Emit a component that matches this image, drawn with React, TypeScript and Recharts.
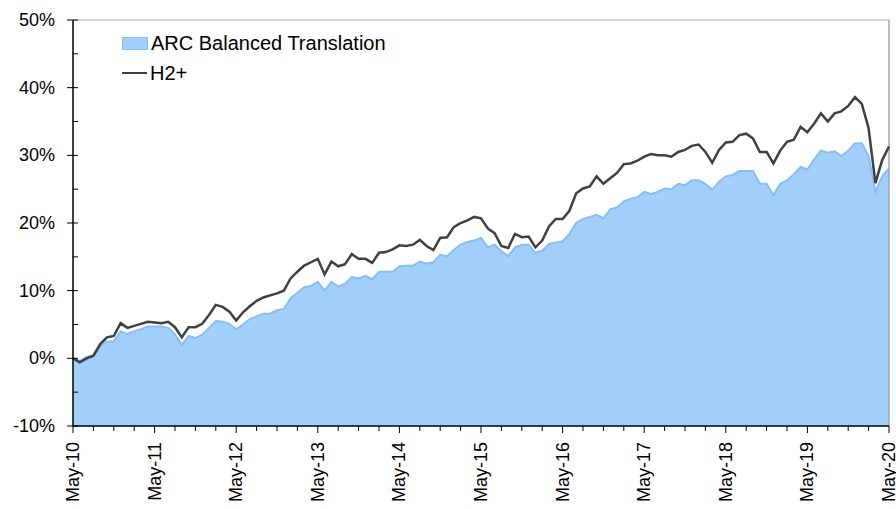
import { ComposedChart, Area, Line, XAxis, YAxis, ReferenceLine } from 'recharts'

const FONT = '"Liberation Sans", Arial, sans-serif'

const monthNames = ['Jan', 'Feb', 'Mar', 'Apr', 'May', 'Jun', 'Jul', 'Aug', 'Sep', 'Oct', 'Nov', 'Dec']

// monthly, May-10 .. May-20
const months: string[] = Array.from({ length: 121 }, (_, i) => {
  const m = (4 + i) % 12
  const y = 10 + Math.floor((4 + i) / 12)
  return `${monthNames[m]}-${y}`
})

// cumulative return, %
const arc = [
  0, -0.4, 0.2, 0.4, 1.7, 2.5, 2.5, 4.0, 3.6, 4.0, 4.3, 4.7,
  4.7, 4.7, 4.5, 3.5, 2.0, 3.3, 3.0, 3.5, 4.5, 5.5, 5.4, 5.1,
  4.3, 5.0, 5.8, 6.2, 6.6, 6.6, 7.1, 7.3, 8.9, 9.7, 10.5, 10.7,
  11.3, 10.0, 11.3, 10.6, 11.0, 12.0, 11.8, 12.2, 11.7, 12.8, 12.8, 12.8,
  13.6, 13.7, 13.7, 14.3, 14.0, 14.2, 15.3, 15.1, 16.0, 16.8, 17.2, 17.4,
  17.8, 16.4, 16.8, 15.8, 15.1, 16.4, 16.8, 16.8, 15.6, 15.9, 16.9, 17.1,
  17.3, 18.4, 20.0, 20.6, 20.9, 21.2, 20.7, 22.0, 22.3, 23.2, 23.6, 23.8,
  24.6, 24.3, 24.6, 25.1, 25.0, 25.8, 25.6, 26.3, 26.3, 25.8, 24.9, 26.1,
  26.9, 27.1, 27.7, 27.7, 27.7, 25.8, 25.8, 24.1, 25.8, 26.3, 27.2, 28.3,
  27.9, 29.4, 30.7, 30.4, 30.6, 29.9, 30.7, 31.8, 31.8, 29.9, 24.6, 26.9,
  28.1,
]

const h2 = [
  0, -0.6, 0, 0.4, 2.1, 3.1, 3.3, 5.2, 4.5, 4.8, 5.1, 5.4,
  5.3, 5.2, 5.4, 4.6, 3.1, 4.6, 4.6, 5.1, 6.4, 7.9, 7.6, 6.9,
  5.6, 6.8, 7.7, 8.5, 9.0, 9.3, 9.6, 10.0, 11.8, 12.8, 13.7, 14.2,
  14.7, 12.4, 14.3, 13.6, 13.9, 15.4, 14.7, 14.7, 14.1, 15.6, 15.7, 16.1,
  16.7, 16.6, 16.8, 17.5, 16.6, 16.0, 17.8, 17.9, 19.4, 20.0, 20.4, 20.9,
  20.7, 19.2, 18.5, 16.6, 16.3, 18.4, 17.9, 18.0, 16.4, 17.4, 19.5, 20.6,
  20.6, 21.8, 24.4, 25.1, 25.4, 26.9, 25.8, 26.6, 27.4, 28.7, 28.8, 29.2,
  29.8, 30.2, 30.0, 30.0, 29.8, 30.5, 30.8, 31.4, 31.6, 30.5, 28.9, 30.8,
  31.9, 32.0, 33.0, 33.2, 32.5, 30.5, 30.5, 28.8, 30.7, 32.0, 32.3, 34.2,
  33.4, 34.7, 36.2, 35.0, 36.2, 36.5, 37.3, 38.6, 37.6, 34.0, 25.9, 29.3,
  31.3,
]

const yTicks = [-10, -5, 0, 5, 10, 15, 20, 25, 30, 35, 40, 45, 50]
const xTicks = months.map((_, i) => i).filter((i) => i % 3 === 0)

const data = months.map((m, i) => ({ i, m, arc: arc[i], h2: h2[i] }))

const Y_TICK_SIZE = 6
const Y_TICK_MARGIN = 12
const X_TICK_SIZE = 6
const X_TICK_MARGIN = 4

function YTick(props: any) {
  const { x, y, payload } = props
  const axisX = x + Y_TICK_MARGIN + Y_TICK_SIZE
  const major = payload.value % 10 === 0
  return (
    <g>
      <line x1={major ? axisX - 6 : axisX} x2={axisX + 5} y1={y} y2={y} stroke="#000" strokeWidth={1} />
      {major && (
        <text x={x} y={y} textAnchor="end" dominantBaseline="central" fontFamily={FONT} fontSize={18} fill="#000">
          {payload.value}%
        </text>
      )}
    </g>
  )
}

function XTick(props: any) {
  const { x, y, payload } = props
  const axisY = y - X_TICK_MARGIN - X_TICK_SIZE
  const major = payload.value % 12 === 0
  const ty = axisY + 16
  return (
    <g>
      <line x1={x} x2={x} y1={axisY} y2={axisY + (major ? 7 : 5)} stroke="#000" strokeWidth={1} />
      {major && (
        <text
          x={x}
          y={ty}
          transform={`rotate(-90, ${x}, ${ty})`}
          textAnchor="end"
          dominantBaseline="central"
          fontFamily={FONT}
          fontSize={18}
          fill="#000"
        >
          {months[payload.value]}
        </text>
      )}
    </g>
  )
}

export default function App() {
  return (
    <div style={{ position: 'absolute', left: 0, top: 0, width: 896, height: 509, background: '#fff' }}>
      <ComposedChart width={896} height={509} data={data} margin={{ top: 20, right: 7, bottom: 0, left: 0 }}>
        <XAxis
          dataKey="i"
          type="number"
          domain={[0, 120]}
          ticks={xTicks}
          interval={0}
          height={83}
          tickSize={X_TICK_SIZE}
          tickMargin={X_TICK_MARGIN}
          tickLine={false}
          tick={<XTick />}
          axisLine={{ stroke: '#000', strokeWidth: 1.5 }}
        />
        <YAxis
          domain={[-10, 50]}
          ticks={yTicks}
          interval={0}
          width={73}
          tickSize={Y_TICK_SIZE}
          tickMargin={Y_TICK_MARGIN}
          tickLine={false}
          tick={<YTick />}
          axisLine={{ stroke: '#000', strokeWidth: 1.5 }}
        />
        <ReferenceLine y={50} stroke="#a6a6a6" strokeWidth={1} />
        <ReferenceLine x={120} stroke="#a6a6a6" strokeWidth={1.5} />
        <Area
          type="linear"
          dataKey="arc"
          baseValue="dataMin"
          fill="#a2cffb"
          fillOpacity={1}
          stroke="#84bff7"
          strokeWidth={2}
          isAnimationActive={false}
        />
        <Line
          type="linear"
          dataKey="h2"
          stroke="#404040"
          strokeWidth={2.5}
          dot={false}
          isAnimationActive={false}
        />
      </ComposedChart>
      <div style={{ position: 'absolute', left: 122, top: 28, fontFamily: FONT, fontSize: 20, color: '#000', lineHeight: '30px' }}>
        <div style={{ display: 'flex', alignItems: 'center', height: 30 }}>
          <span style={{ display: 'inline-block', width: 24, height: 11, background: '#a2cffb', border: '1px solid #84bff7', marginRight: 3 }} />
          ARC Balanced Translation
        </div>
        <div style={{ display: 'flex', alignItems: 'center', height: 30 }}>
          <span style={{ display: 'inline-block', width: 25, height: 0, borderTop: '2.5px solid #404040', marginRight: 3 }} />
          H2+
        </div>
      </div>
    </div>
  )
}
